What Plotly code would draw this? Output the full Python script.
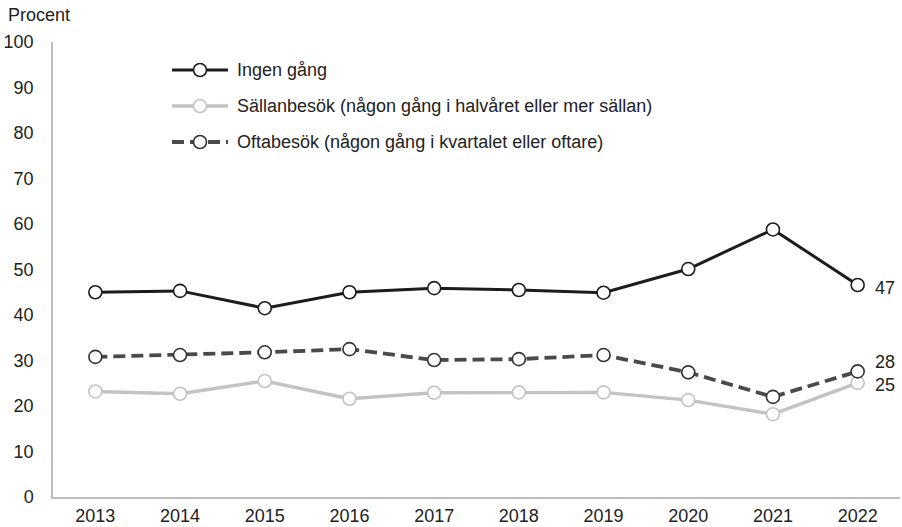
import plotly.graph_objects as go

years = ["2013", "2014", "2015", "2016", "2017", "2018", "2019", "2020", "2021", "2022"]
ingen = [45.0, 45.3, 41.5, 45.0, 45.9, 45.5, 44.9, 50.1, 58.8, 46.6]
sallan = [23.2, 22.7, 25.5, 21.6, 22.9, 23.0, 23.0, 21.3, 18.2, 25.1]
ofta = [30.8, 31.2, 31.8, 32.5, 30.1, 30.3, 31.2, 27.4, 22.0, 27.6]
names = ["Ingen gång",
         "Sällanbesök (någon gång i halvåret eller mer sällan)",
         "Oftabesök (någon gång i kvartalet eller oftare)"]
end_labels = ["47", "25", "28"]

FONT = "Liberation Sans, Arial, sans-serif"
TXT = "#222222"
W, H = 902, 527
ML, MR, MT, MB = 53, 2, 42, 30
PW, PH = W - ML - MR, H - MT - MB


def px(x):
    return (x - ML) / PW


def py(y):
    return (H - MB - y) / PH


fig = go.Figure()

styles = [
    dict(color="#1c1c1c", width=3, dash="solid", mline="#1c1c1c"),
    dict(color="#c3c3c3", width=3.4, dash="solid", mline="#c3c3c3"),
    dict(color="#4a4a4a", width=3.8, dash="12px,6px", mline="#333333"),
]
series = [ingen, sallan, ofta]
for i, (nm, vals, st) in enumerate(zip(names, series, styles)):
    fig.add_trace(go.Scatter(
        x=years, y=vals, name=nm, mode="lines+markers", showlegend=False,
        line=dict(color=st["color"], width=st["width"], dash=st["dash"]),
        marker=dict(size=13, color="white", line=dict(color=st["mline"], width=1.6)),
        hoverinfo="x+y",
    ))

# legend drawn as guide elements (paper coordinates)
rows = [70, 106, 142]
for nm, st, ry in zip(names, styles, rows):
    fig.add_shape(type="line", xref="paper", yref="paper",
                  x0=px(172), x1=px(228), y0=py(ry), y1=py(ry),
                  line=dict(color=st["color"], width=st["width"], dash=st["dash"]))
    fig.add_shape(type="circle", xref="paper", yref="paper",
                  x0=px(193.5), x1=px(206.5), y0=py(ry + 6.5), y1=py(ry - 6.5),
                  fillcolor="white", line=dict(color=st["mline"], width=1.6))
    fig.add_annotation(x=px(235), y=py(ry), xref="paper", yref="paper",
                       text=nm, showarrow=False, xanchor="left", yanchor="middle",
                       font=dict(size=18, color=TXT, family=FONT))

# end labels (positioned at the last category through the category index)
yshifts = [-3, -2, 9]
for vals, lab, ys in zip(series, end_labels, yshifts):
    fig.add_annotation(x=len(years) - 1, y=vals[-1], xref="x", yref="y",
                       text=lab, showarrow=False,
                       xanchor="left", xshift=15, yshift=ys,
                       font=dict(size=18, color=TXT, family=FONT))

fig.add_annotation(x=0, y=1, xref="paper", yref="paper", text="Procent",
                   showarrow=False, xanchor="left", yanchor="bottom",
                   xshift=-47, yshift=15,
                   font=dict(size=18, color=TXT, family=FONT))

fig.update_layout(
    width=W, height=H,
    margin=dict(l=ML, r=MR, t=MT, b=MB),
    paper_bgcolor="white", plot_bgcolor="white",
    font=dict(family=FONT, size=18, color=TXT),
    showlegend=False,
    xaxis=dict(type="category", range=[-0.5, 9.5], showgrid=False,
               showline=True, linecolor="#bdbdbd", linewidth=1.5,
               ticks="outside", ticklen=2, tickcolor="rgba(0,0,0,0)",
               tickfont=dict(size=18), zeroline=False, automargin=False),
    yaxis=dict(range=[0, 100], dtick=10, showgrid=False, zeroline=False,
               showline=True, linecolor="#bdbdbd", linewidth=1.5,
               ticks="outside", ticklen=14, tickcolor="rgba(0,0,0,0)",
               tickfont=dict(size=18), automargin=False),
)

fig.write_html("out.html", config={"displayModeBar": False},
               post_script="document.body.style.margin='0';")
